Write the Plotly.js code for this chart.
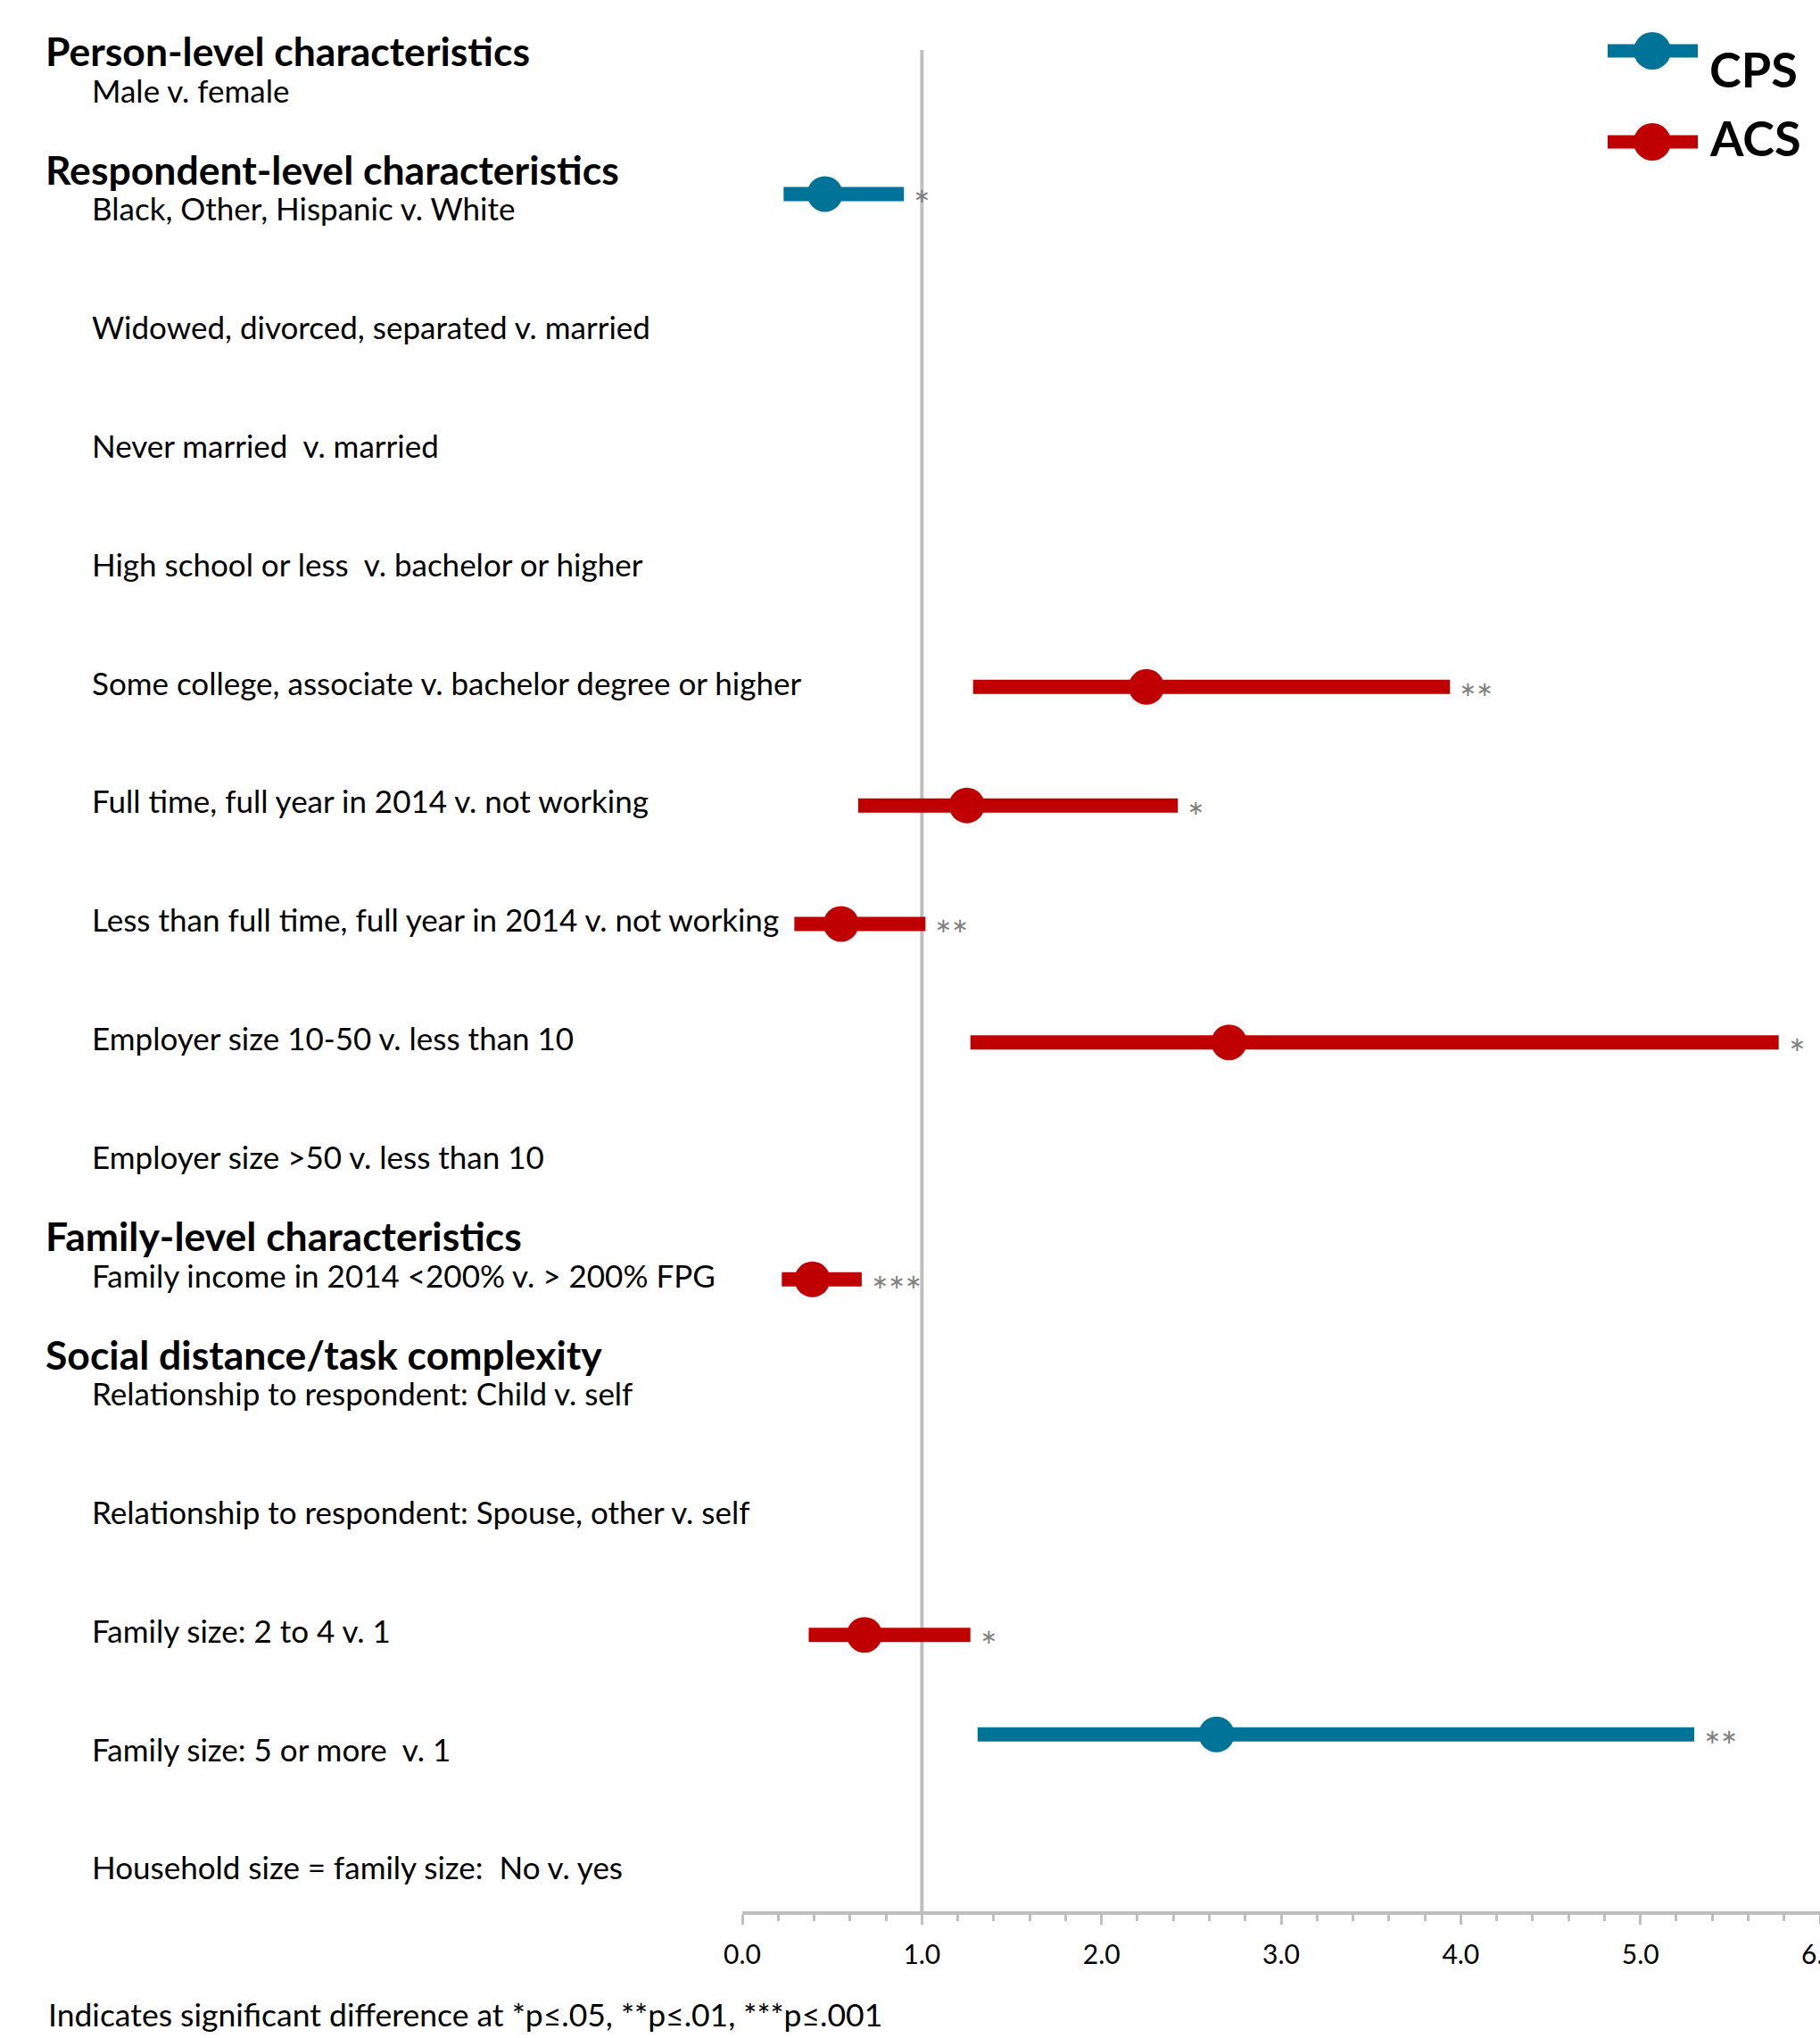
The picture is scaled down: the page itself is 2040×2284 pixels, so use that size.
<!DOCTYPE html>
<html>
<head>
<meta charset="utf-8">
<script src="https://cdn.plot.ly/plotly-3.0.1.min.js"></script>
<style>
  html, body { margin: 0; padding: 0; background: #fff; }
  #chart { width: 2040px; height: 2284px; }
</style>
</head>
<body>
<div id="chart"></div>
<script>
// Row labels, top to bottom
const rowLabels = [
  "Male v. female",
  "Black, Other, Hispanic v. White",
  "Widowed, divorced, separated v. married",
  "Never married  v. married",
  "High school or less  v. bachelor or higher",
  "Some college, associate v. bachelor degree or higher",
  "Full time, full year in 2014 v. not working",
  "Less than full time, full year in 2014 v. not working",
  "Employer size 10-50 v. less than 10",
  "Employer size >50 v. less than 10",
  "Family income in 2014 <200% v. > 200% FPG",
  "Relationship to respondent: Child v. self",
  "Relationship to respondent: Spouse, other v. self",
  "Family size: 2 to 4 v. 1",
  "Family size: 5 or more  v. 1",
  "Household size = family size:  No v. yes"
];

// Group headings and the row each one sits above
const headerLabels = [
  "Person-level characteristics",
  "Respondent-level characteristics",
  "Family-level characteristics",
  "Social distance/task complexity"
];
const headerRows = [0, 1, 10, 11];

// CPS estimates (odds ratio with confidence bounds)
const cpsRows = ["Black, Other, Hispanic v. White", "Family size: 5 or more  v. 1"];
const cpsEst  = [0.46, 2.64];
const cpsLow  = [0.23, 1.31];
const cpsHigh = [0.90, 5.30];
const cpsSig  = ["*", "**"];

// ACS estimates
const acsRows = [
  "Some college, associate v. bachelor degree or higher",
  "Full time, full year in 2014 v. not working",
  "Less than full time, full year in 2014 v. not working",
  "Employer size 10-50 v. less than 10",
  "Family income in 2014 <200% v. > 200% FPG",
  "Family size: 2 to 4 v. 1"
];
const acsEst  = [2.25, 1.25, 0.55, 2.71, 0.39, 0.68];
const acsLow  = [1.285, 0.645, 0.29, 1.27, 0.22, 0.37];
const acsHigh = [3.94, 2.425, 1.02, 5.77, 0.665, 1.27];
const acsSig  = ["**", "*", "**", "*", "***", "*"];

const footnote = "Indicates significant difference at *p\u2264.05, **p\u2264.01, ***p\u2264.001";

// ---- layout geometry (pixels) ----
const W = 2040, H = 2284;
const L = 832, T = 40, B = 2142;          // plot area left, top, bottom
const px = x => (x - L) / (W - L);          // pixel -> paper x
const py = y => (B - y) / (B - T);          // pixel -> paper y

const CPS_COLOR = "#007398";
const ACS_COLOR = "#C00000";
const GREY = "#BFBFBF";
const FONT = "Lato, 'Open Sans', sans-serif";

const cpsOffset = -0.12, acsOffset = 0.04;
const rowOf = name => rowLabels.indexOf(name);

function seriesTrace(name, rows, est, lo, hi, offset, color) {
  return {
    type: "scatter",
    mode: "markers",
    name: name,
    x: est,
    y: rows.map(r => rowOf(r) + offset),
    marker: { color: color, size: 40, line: { width: 0 } },
    error_x: {
      type: "data",
      symmetric: false,
      array: hi.map((h, i) => h - est[i]),
      arrayminus: lo.map((l, i) => est[i] - l),
      color: color,
      thickness: 16,
      width: 0
    },
    showlegend: false,
    hoverinfo: "x"
  };
}

const traces = [
  seriesTrace("CPS", cpsRows, cpsEst, cpsLow, cpsHigh, cpsOffset, CPS_COLOR),
  seriesTrace("ACS", acsRows, acsEst, acsLow, acsHigh, acsOffset, ACS_COLOR)
];

const annotations = [];

// row labels
rowLabels.forEach((t, i) => annotations.push({
  xref: "paper", yref: "y", x: px(101), y: i,
  xanchor: "left", yanchor: "middle", showarrow: false,
  text: t, font: { family: FONT, size: 35, color: "#000" }
}));

// group headings
headerLabels.forEach((t, i) => annotations.push({
  xref: "paper", yref: "y", x: px(49), y: headerRows[i] - 0.33,
  xanchor: "left", yanchor: "middle", showarrow: false,
  text: "<b>" + t + "</b>", font: { family: FONT, size: 44.5, color: "#000" }
}));

// significance stars
function addStars(rows, hi, sig, offset) {
  rows.forEach((r, i) => annotations.push({
    xref: "x", yref: "y", x: hi[i], y: rowOf(r) + offset,
    xanchor: "left", yanchor: "middle", showarrow: false,
    xshift: 9, yshift: -12,
    text: sig[i], font: { family: FONT, size: 44, color: "#808080" }
  }));
}
addStars(cpsRows, cpsHigh, cpsSig, cpsOffset);
addStars(acsRows, acsHigh, acsSig, acsOffset);

// footnote
annotations.push({
  xref: "paper", yref: "paper", x: px(52), y: py(2257),
  xanchor: "left", yanchor: "middle", showarrow: false,
  text: footnote, font: { family: FONT, size: 35.5, color: "#000" }
});

// legend text
annotations.push({
  xref: "paper", yref: "paper", x: px(1914), y: py(77),
  xanchor: "left", yanchor: "middle", showarrow: false,
  text: "<b>CPS</b>", font: { family: FONT, size: 54, color: "#000" }
});
annotations.push({
  xref: "paper", yref: "paper", x: px(1914), y: py(154),
  xanchor: "left", yanchor: "middle", showarrow: false,
  text: "<b>ACS</b>", font: { family: FONT, size: 54, color: "#000" }
});

const shapes = [
  // reference line at odds ratio 1
  { type: "line", xref: "x", yref: "paper", x0: 1, x1: 1, y0: 0, y1: py(56),
    line: { color: GREY, width: 4 }, layer: "below" }
];

// legend keys
function legendKey(cy, color) {
  shapes.push({ type: "line", xref: "paper", yref: "paper",
    x0: px(1802), x1: px(1903), y0: py(cy), y1: py(cy),
    line: { color: color, width: 15 } });
  shapes.push({ type: "circle", xref: "paper", yref: "paper",
    x0: px(1831), x1: px(1873), y0: py(cy - 21), y1: py(cy + 21),
    fillcolor: color, line: { width: 0 } });
}
legendKey(57, CPS_COLOR);
legendKey(159, ACS_COLOR);

const layout = {
  width: W, height: H,
  margin: { l: L, r: 0, t: T, b: H - B, pad: 0 },
  paper_bgcolor: "#fff", plot_bgcolor: "#fff",
  showlegend: false,
  font: { family: FONT, color: "#000" },
  xaxis: {
    range: [0, 6],
    tick0: 0, dtick: 1, tickformat: ".1f",
    ticks: "outside", ticklen: 11, tickwidth: 3, tickcolor: GREY,
    minor: { dtick: 0.2, ticks: "outside", ticklen: 7, tickwidth: 3, tickcolor: GREY, showgrid: false },
    showline: true, linecolor: GREY, linewidth: 4,
    showgrid: false, zeroline: false,
    tickfont: { family: FONT, size: 30, color: "#000" },
    ticklabelstandoff: 8,
    ticklabeloverflow: "allow",
    fixedrange: true
  },
  yaxis: {
    range: [15.373, -0.456],
    visible: false, showgrid: false, zeroline: false, fixedrange: true
  },
  annotations: annotations,
  shapes: shapes
};

Plotly.newPlot("chart", traces, layout, { displayModeBar: false, staticPlot: true });
</script>
</body>
</html>
